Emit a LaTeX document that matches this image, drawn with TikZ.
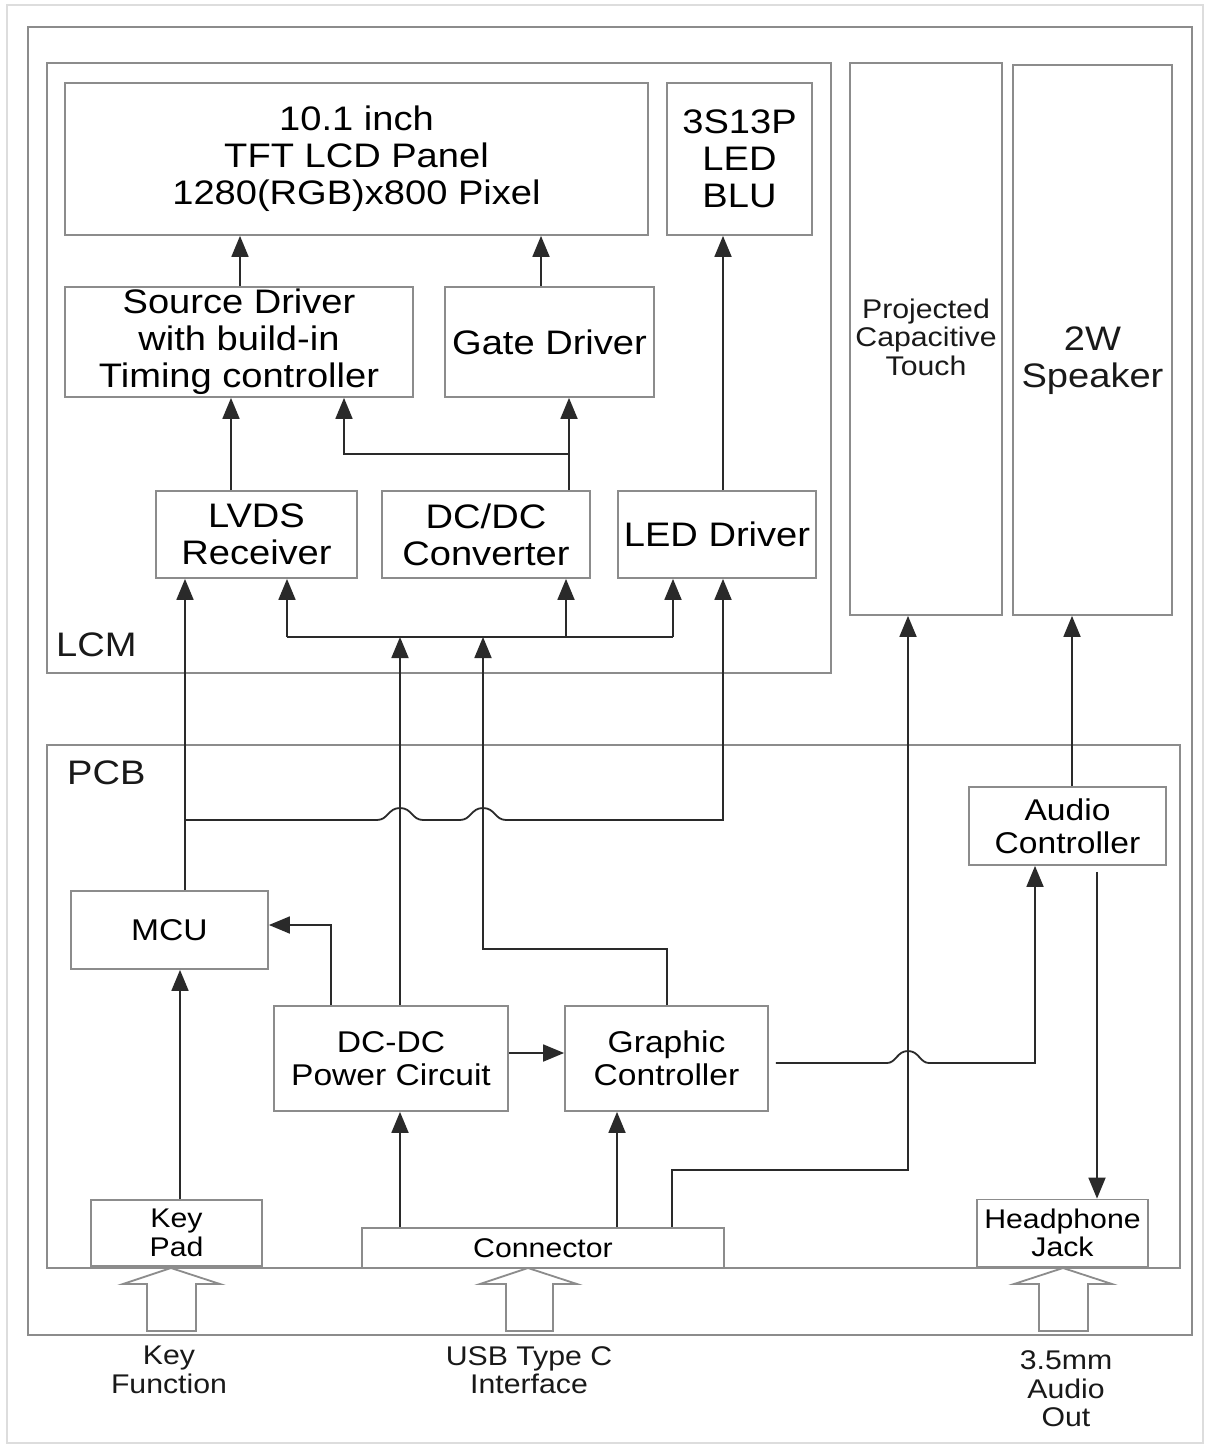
\documentclass[tikz,border=0pt]{standalone}
\usepackage{fontspec}
\setmainfont{Liberation Sans}[FakeStretch=1.12]
\usetikzlibrary{arrows.meta}
\definecolor{boxgray}{HTML}{8C8C8C}
\definecolor{wiregray}{HTML}{2A2A2A}
\definecolor{framelight}{HTML}{DDDDDD}
\begin{document}
\begin{tikzpicture}[x=1pt,y=-1pt,
  box/.style={draw=boxgray, line width=1.8pt, inner sep=0pt, align=center, fill=white},
  big/.style={font=\fontsize{34}{37}\selectfont},
  mid/.style={font=\fontsize{30}{33}\selectfont},
  small/.style={font=\fontsize{27}{28.5}\selectfont},
  txt/.style={inner sep=0pt, align=center, text=black!90},
  wire/.style={draw=wiregray, line width=1.8pt},
  arr/.style={wire, -{Triangle[length=21pt,width=17pt]}},
  hollow/.style={draw=boxgray, line width=1.8pt, fill=white, line join=miter}
]
\useasboundingbox (0,0) rectangle (1208,1447);
\fill[white] (0,0) rectangle (1208,1447);
\draw[framelight, line width=1.5pt] (7,5) rectangle (1203,1443);
\draw[boxgray, line width=1.8pt] (28,27) rectangle (1192,1335);

% group frames
\node[box, fill=none, minimum width=784, minimum height=610] (lcm) at (439,368) {};
\node[box, fill=none, minimum width=1133, minimum height=523] (pcb) at (613.5,1006.5) {};
\node[txt, big, anchor=west] (lcmL) at (56,645) {LCM};
\node[txt, big, anchor=west] (pcbL) at (67,773) {PCB};

% LCM blocks
\node[box, big, minimum width=583, minimum height=152] (panel) at (356.5,159) {10.1 inch\\TFT LCD Panel\\1280(RGB)x800 Pixel};
\node[box, big, minimum width=145, minimum height=152] (blu) at (739.5,159) {3S13P\\LED\\BLU};
\node[box, big, minimum width=348, minimum height=110] (src) at (239,342) {Source Driver\\with build-in\\Timing controller};
\node[box, big, minimum width=209, minimum height=110] (gate) at (549.5,342) {Gate Driver};
\node[box, big, minimum width=201, minimum height=87] (lvds) at (256.5,534.5) {LVDS\\Receiver};
\node[box, big, minimum width=208, minimum height=87] (dcdc) at (486,534.5) {DC/DC\\Converter};
\node[box, big, minimum width=198, minimum height=87] (led) at (717,534.5) {LED Driver};

% right column
\node[box, minimum width=152, minimum height=552] (touch) at (926,339) {};
\node[txt, small] (touchT) at (926,337) {Projected\\Capacitive\\Touch};
\node[box, minimum width=159, minimum height=550] (spk) at (1092.5,340) {};
\node[txt, big] (spkT) at (1092.5,361) {2W\\Speaker};

% PCB blocks
\node[box, mid, minimum width=197, minimum height=78] (audio) at (1067.5,826) {Audio\\Controller};
\node[box, mid, minimum width=197, minimum height=78] (mcu) at (169.5,930) {MCU};
\node[box, mid, minimum width=234, minimum height=105] (pwr) at (391,1058.5) {DC-DC\\Power Circuit};
\node[box, mid, minimum width=203, minimum height=105] (gfx) at (666.5,1058.5) {Graphic\\Controller};
\node[box, small, minimum width=171, minimum height=66] (keypad) at (176.5,1233) {Key\\Pad};
\node[box, small, minimum width=362, minimum height=40] (conn) at (543,1248) {Connector};
\node[box, small, minimum width=171, minimum height=67] (jack) at (1062.5,1233) {Headphone\\Jack};

% LCM connectors
\draw[arr] (240,0 |- src.north) -- (240,0 |- panel.south);
\draw[arr] (541,0 |- gate.north) -- (541,0 |- panel.south);
\draw[arr] (723,0 |- led.north) -- (723,0 |- blu.south);
\draw[arr] (231,0 |- lvds.north) -- (231,0 |- src.south);
\draw[arr] (569,0 |- dcdc.north) -- (569,0 |- gate.south);
\coordinate (j1) at (569,454);
\draw[arr] (j1) -- (344,454) -- (344,0 |- src.south);
\coordinate (busL) at (287,637);
\coordinate (busM) at (566,637);
\coordinate (busR) at (673,637);
\draw[wire] (busL) -- (busR);
\draw[arr] (busL) -- (287,0 |- lvds.south);
\draw[arr] (busM) -- (566,0 |- dcdc.south);
\draw[arr] (busR) -- (673,0 |- led.south);

% PCB to LCM
\draw[arr] (400,0 |- pwr.north) -- (400,637);
\draw[arr] (667,0 |- gfx.north) -- (667,949) -- (483,949) -- (483,637);
\draw[arr] (185,0 |- mcu.north) -- (185,0 |- lvds.south);
\coordinate (j2) at (185,820);
\draw[arr] (j2) -- (377,820)
  .. controls (388,820) and (388,808) .. (400,808)
  .. controls (412,808) and (412,820) .. (423,820) -- (460,820)
  .. controls (471,820) and (471,808) .. (483,808)
  .. controls (495,808) and (495,820) .. (506,820)
  -- (723,820) -- (723,0 |- led.south);

% PCB internal
\draw[arr] (331,0 |- pwr.north) -- (331,925) -- (mcu.east |- 0,925);
\draw[arr] (pwr.east |- 0,1053) -- (gfx.west |- 0,1053);
\draw[arr] ([xshift=7pt]gfx.east |- 0,1063) -- (887,1063)
  .. controls (896,1063) and (897,1051) .. (908,1051)
  .. controls (919,1051) and (920,1063) .. (929,1063)
  -- (1035,1063) -- (1035,0 |- audio.south);
\draw[arr] (672,0 |- conn.north) -- (672,1170) -- (908,1170) -- (908,0 |- touch.south);
\draw[arr] (400,0 |- conn.north) -- (400,0 |- pwr.south);
\draw[arr] (617,0 |- conn.north) -- (617,0 |- gfx.south);
\draw[arr] (180,0 |- keypad.north) -- (180,0 |- mcu.south);
\draw[arr] (1072,0 |- audio.north) -- (1072,0 |- spk.south);
\draw[arr, shorten <=6pt] (1097,0 |- audio.south) -- (1097,0 |- jack.north);

% hollow input arrows
\draw[hollow] (171,1268) -- (220,1284) -- (196,1284) -- (196,1331) -- (147,1331) -- (147,1284) -- (123,1284) -- cycle;
\draw[hollow] (528,1268) -- (577,1284) -- (553,1284) -- (553,1331) -- (506,1331) -- (506,1284) -- (480,1284) -- cycle;
\draw[hollow] (1063,1268) -- (1112,1284) -- (1088,1284) -- (1088,1331) -- (1039,1331) -- (1039,1284) -- (1014,1284) -- cycle;

% external labels
\node[txt, small] (kf) at (169,1370) {Key\\Function};
\node[txt, small] (usb) at (529,1370) {USB Type C\\Interface};
\node[txt, small] (ao) at (1066,1389) {3.5mm\\Audio\\Out};
\end{tikzpicture}
\end{document}
